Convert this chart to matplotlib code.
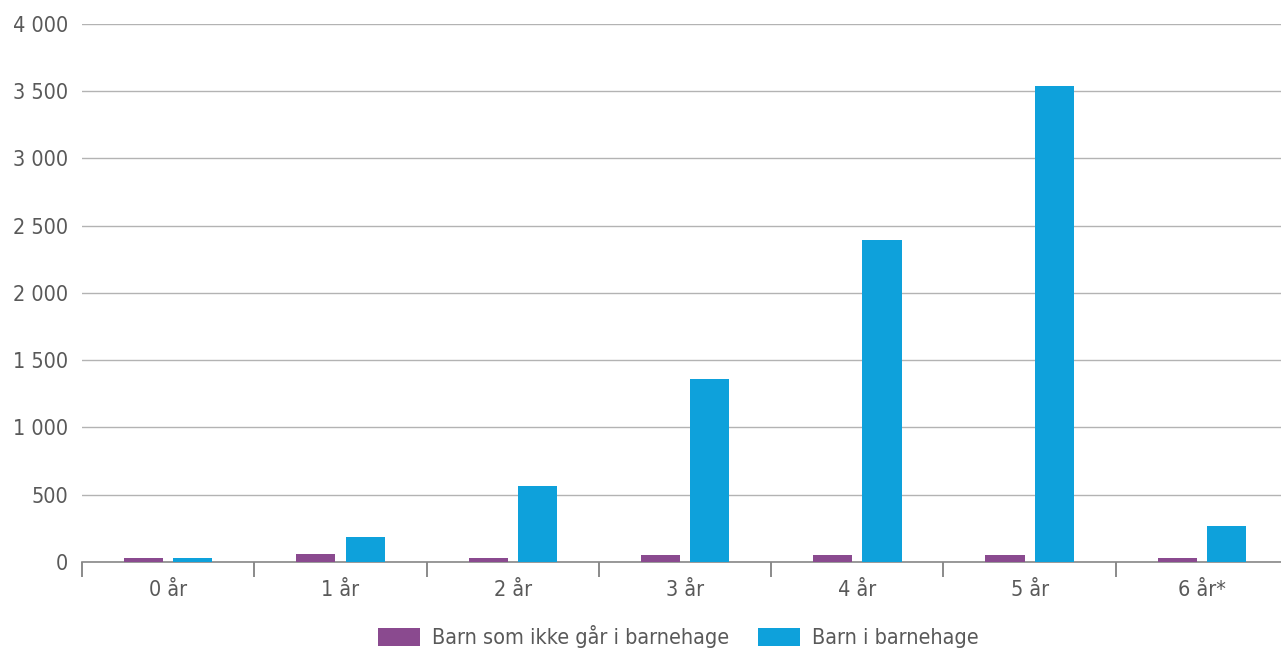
import matplotlib
matplotlib.use("Agg")
import matplotlib.pyplot as plt
import numpy as np
from matplotlib.ticker import FuncFormatter, FixedLocator

plt.rcParams['font.family'] = ['DejaVu Sans']
plt.rcParams['font.stretch'] = 'condensed'

categories = ["0 år", "1 år", "2 år", "3 år", "4 år", "5 år", "6 år*"]
not_in_kindergarten = [30, 60, 30, 55, 55, 55, 30]
in_kindergarten = [30, 188, 562, 1362, 2396, 3540, 268]
series_names = ["Barn som ikke går i barnehage", "Barn i barnehage"]

purple = "#8a4a8f"
blue = "#0ea1db"
text_col = "#595959"

fig = plt.figure(figsize=(12.81, 6.5), dpi=100)
ax = fig.add_axes([0.064, 0.1354, 0.9415, 0.8277])

x = np.arange(len(categories))
w = 0.227
ax.bar(x - 0.143, not_in_kindergarten, w, color=purple, label=series_names[0], zorder=3)
ax.bar(x + 0.143, in_kindergarten, w, color=blue, label=series_names[1], zorder=3)

ax.set_xlim(-0.5, len(categories) - 0.5)
ax.set_ylim(0, 4000)
ax.set_yticks(np.arange(0, 4001, 500))
ax.yaxis.set_major_formatter(FuncFormatter(lambda v, p: f"{int(v):,}".replace(",", " ")))
ax.grid(axis='y', color="#b3b3b3", linewidth=1.0, zorder=0)
ax.tick_params(axis='y', length=0, pad=10, labelsize=15.5, labelcolor=text_col)

ax.set_xticks(x)
ax.set_xticklabels(categories)
ax.tick_params(axis='x', length=0, pad=13, labelsize=15.5, labelcolor=text_col)
ax.xaxis.set_minor_locator(FixedLocator(np.arange(-0.5, len(categories) - 0.5, 1)))
ax.tick_params(axis='x', which='minor', length=11, width=1.2, color="#777777")

for s in ['top', 'right', 'left']:
    ax.spines[s].set_visible(False)
ax.spines['bottom'].set_color("#888888")
ax.spines['bottom'].set_linewidth(1.2)

fig.legend(*ax.get_legend_handles_labels(), loc='center', bbox_to_anchor=(678 / 1281, 1 - 637 / 650),
           ncol=2, frameon=False, fontsize=15.5, labelcolor=text_col,
           handlelength=1.95, handleheight=0.85, columnspacing=1.35, handletextpad=0.55)

fig.savefig("out.png", dpi=100)
